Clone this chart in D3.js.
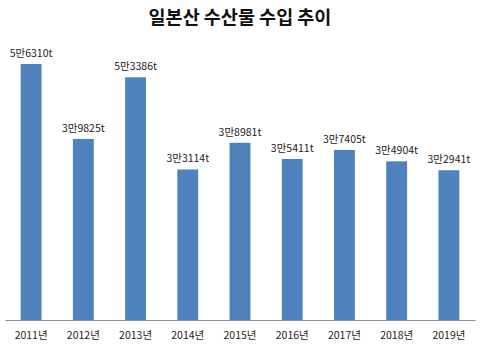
<!DOCTYPE html>
<html>
<head>
<meta charset="utf-8">
<script src="https://cdn.jsdelivr.net/npm/d3@7"></script>
<style>
  html, body { margin: 0; padding: 0; background: #fff; }
  svg { display: block; }
</style>
</head>
<body>
<svg id="chart" width="480" height="348"></svg>
<script>
// Imports of Japanese seafood, tonnes per year
const years = ["2011년", "2012년", "2013년", "2014년", "2015년", "2016년", "2017년", "2018년", "2019년"];
const tonnes = [56310, 39825, 53386, 33114, 38981, 35411, 37405, 34904, 32941];
const valueLabels = ["5만6310t", "3만9825t", "5만3386t", "3만3114t", "3만8981t", "3만5411t", "3만7405t", "3만4904t", "3만2941t"];
const title = "일본산 수산물 수입 추이";

const svg = d3.select("#chart");
const font = "'Noto Sans CJK KR', 'Noto Sans', sans-serif";

const x = d3.scaleBand().domain(years).range([5, 475]).paddingInner(0.6).paddingOuter(0.3);
const y = d3.scaleLinear().domain([0, 56310]).range([320, 64]);

svg.append("text")
  .attr("x", 240).attr("y", 24)
  .attr("text-anchor", "middle")
  .attr("font-family", font)
  .attr("font-weight", "bold")
  .attr("font-size", 18.5)
  .attr("fill", "#111")
  .text(title);

const data = years.map((yr, i) => ({ yr, v: tonnes[i], label: valueLabels[i] }));

svg.append("g").selectAll("rect").data(data).join("rect")
  .attr("x", d => x(d.yr))
  .attr("y", d => y(d.v))
  .attr("width", x.bandwidth())
  .attr("height", d => y(0) - y(d.v))
  .attr("fill", "#4F81BD");

svg.append("g").selectAll("text").data(data).join("text")
  .attr("x", d => x(d.yr) + x.bandwidth() / 2)
  .attr("y", d => y(d.v) - 7)
  .attr("text-anchor", "middle")
  .attr("font-family", font)
  .attr("font-size", 10.5)
  .attr("fill", "#222")
  .text(d => d.label);

const axis = svg.append("g")
  .attr("transform", `translate(0,${y(0)})`)
  .call(d3.axisBottom(x).tickSize(0).tickPadding(12));
axis.select(".domain").attr("stroke", "#8c8c8c").attr("stroke-width", 1);
axis.selectAll("text")
  .attr("font-family", font)
  .attr("font-size", 10.5)
  .attr("fill", "#222");
</script>
</body>
</html>
